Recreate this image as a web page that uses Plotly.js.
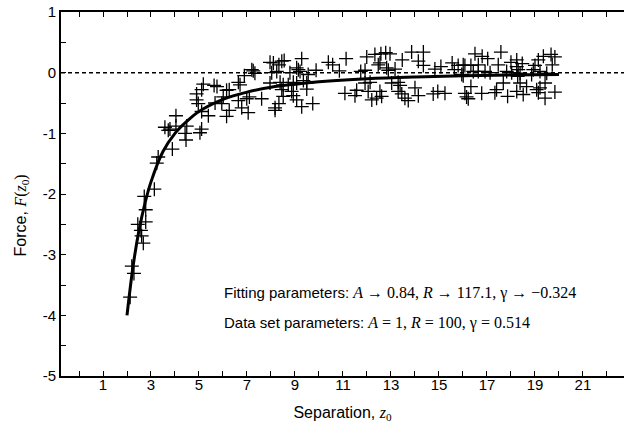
<!DOCTYPE html>
<html><head><meta charset="utf-8">
<script src="https://cdn.plot.ly/plotly-3.0.1.min.js"></script>
<style>body{margin:0;background:#fff}</style>
</head><body><div id="chart" style="width:624px;height:434px"></div>
<script>
// measured data points (separation z0, force F)
const dataZ = [
 2.13,2.29,2.20,2.68,2.61,2.58,2.78,2.45,2.78,2.72,3.14,3.24,3.30,3.89,3.72,3.58,3.79,4.04,4.04,4.49,4.42,4.46,5.04,5.11,
 4.97,4.90,4.90,5.11,5.18,5.63,5.75,5.11,5.39,5.67,5.95,6.01,6.15,6.26,6.26,6.15,6.64,6.71,6.89,7.20,7.26,7.33,6.64,6.99,7.10,6.78,7.05,7.61,8.17,
 7.96,8.10,8.45,8.55,8.33,9.28,8.03,8.24,8.79,9.07,9.14,9.21,9.55,9.88,10.39,10.57,10.85,11.13,11.74,11.92,11.99,
 7.96,8.38,8.51,8.72,8.93,9.07,9.35,9.49,9.49,8.45,8.86,8.51,8.93,9.07,8.33,9.28,9.74,8.17,11.08,11.57,11.50,11.92,
 12.33,12.58,12.78,12.96,12.54,12.47,12.82,12.89,13.17,13.47,13.86,14.35,14.14,14.35,14.83,15.08,15.55,15.80,15.64,15.95,16.01,16.08,
 12.13,12.05,12.20,12.40,12.54,12.61,13.03,13.30,13.38,13.30,13.45,13.58,13.72,14.00,14.14,14.76,14.95,15.25,16.08,16.15,16.22,16.33,16.33,16.43,
 16.50,16.80,17.03,17.58,16.64,17.47,18.00,18.24,18.47,18.24,19.00,19.14,19.35,19.67,19.83,19.72,16.64,16.92,17.13,17.82,18.03,18.30,18.38,18.28,
 18.93,19.21,19.49,18.86,17.68,18.38,18.65,18.24,19.42,19.07,19.21,19.14,19.83,16.78,17.40,17.33,17.86,18.51,19.42,16.01
];
const dataF = [
 -3.70,-3.31,-3.19,-2.81,-2.69,-2.60,-2.46,-2.50,-2.26,-2.04,-1.92,-1.49,-1.39,-1.26,-0.95,-0.90,-0.93,-0.88,-0.71,-0.88,-1.00,-1.11,-0.99,-0.93,
 -0.51,-0.45,-0.35,-0.28,-0.19,-0.21,-0.23,-0.64,-0.71,-0.50,-0.51,-0.40,-0.29,-0.28,-0.62,-0.72,-0.16,-0.20,-0.05,0.05,0.03,-0.01,-0.46,-0.43,-0.40,-0.58,-0.66,-0.43,-0.58,
 0.17,0.16,0.19,0.20,0.13,0.23,0.00,0.02,0.00,0.08,0.05,0.02,-0.03,0.04,0.17,0.13,0.03,0.23,0.02,0.04,0.26,
 -0.17,-0.16,-0.20,-0.20,-0.16,-0.17,-0.13,-0.17,-0.27,-0.28,-0.31,-0.39,-0.38,-0.45,-0.51,-0.56,-0.51,-0.62,-0.34,-0.29,-0.38,-0.17,
 0.30,0.31,0.33,0.31,0.16,0.13,0.08,0.04,0.06,0.21,0.34,0.34,0.19,0.12,0.06,0.10,0.16,0.12,0.05,-0.03,-0.05,0.12,
 -0.16,-0.31,-0.45,-0.42,-0.31,-0.39,-0.17,-0.16,-0.21,-0.31,-0.35,-0.42,-0.46,-0.25,-0.38,-0.35,-0.31,-0.34,-0.34,-0.40,-0.43,-0.23,0.12,0.02,
 0.31,0.27,0.23,0.34,0.13,0.13,0.17,0.21,0.15,0.10,0.12,0.21,0.27,0.30,0.26,0.13,0.02,0.02,0.00,0.02,0.00,0.05,-0.01,-0.06,
 0.05,0.02,-0.01,-0.03,-0.17,-0.17,-0.23,-0.31,-0.17,-0.28,-0.25,-0.33,-0.32,-0.34,-0.28,-0.33,-0.39,-0.36,-0.42,0.13
];
// fitted curve
const fitZ = [2.0,2.25,2.5,2.75,3.0,3.5,4.0,4.5,5.0,6.0,7.0,8.0,9.0,10.0,12.0,14.0,16.0,18.0,20.0];
const fitF = [-4.0,-3.2,-2.6,-2.15,-1.8,-1.3,-1.0,-0.8,-0.64,-0.44,-0.32,-0.24,-0.19,-0.15,-0.10,-0.07,-0.05,-0.04,-0.03];
const xTickVals = [1,3,5,7,9,11,13,15,17,19,21];
const xTickText = ['1','3','5','7','9','11','13','15','17','19','21'];
const yTickVals = [-5,-4,-3,-2,-1,0,1];
const yTickText = ['-5','-4','-3','-2','-1','0','1'];

const serif = "Liberation Serif";
const sans = "'Liberation Sans', Arial, sans-serif";

const traces = [
  {x: dataZ, y: dataF, type: 'scatter', mode: 'markers',
   marker: {symbol: 'cross-thin', size: 10, color: '#000', line: {color: '#000', width: 1.3}},
   hoverinfo: 'none', showlegend: false},
  {x: fitZ, y: fitF, type: 'scatter', mode: 'lines',
   line: {color: '#000', width: 3, shape: 'spline'}, hoverinfo: 'none', showlegend: false}
];

const layout = {
  width: 624, height: 434,
  margin: {l: 61, r: 0, t: 12, b: 58},
  paper_bgcolor: '#fff', plot_bgcolor: '#fff',
  font: {family: sans, size: 15, color: '#000'},
  showlegend: false,
  xaxis: {
    range: [-0.75, 22.71],
    tickmode: 'array', tickvals: xTickVals, ticktext: xTickText,
    ticks: 'inside', ticklen: 5, tickwidth: 1, tickcolor: '#000',
    minor: {tickmode: 'linear', tick0: 0, dtick: 1, ticks: 'inside', ticklen: 5, tickwidth: 1, tickcolor: '#000'},
    showline: true, linecolor: '#000', linewidth: 1.8, mirror: 'ticks',
    showgrid: false, zeroline: false,
    tickfont: {size: 15}, ticklabelstandoff: -6,
    title: {text: "Separation, <span style=\"font-family:" + serif + "\"><i>z</i><sub>0</sub></span>", font: {size: 16}, standoff: 15}
  },
  yaxis: {
    range: [-5, 1],
    tickmode: 'array', tickvals: yTickVals, ticktext: yTickText,
    ticks: 'inside', ticklen: 5, tickwidth: 1, tickcolor: '#000',
    minor: {tickmode: 'linear', tick0: 0, dtick: 0.5, ticks: 'inside', ticklen: 5, tickwidth: 1, tickcolor: '#000'},
    showline: true, linecolor: '#000', linewidth: 1.8, mirror: false,
    showgrid: false, zeroline: false,
    tickfont: {size: 15},
    title: {text: ""}
  },
  shapes: [
    {type: 'line', xref: 'paper', yref: 'y', x0: 0, x1: 1, y0: 0, y1: 0, layer: 'below',
     line: {color: '#000', width: 1.5, dash: '4px,3px'}}
  ],
  annotations: [
    {xref: 'paper', yref: 'paper', x: -0.07, y: 0.44, xanchor: 'center', yanchor: 'middle', showarrow: false,
     textangle: -90, font: {size: 16, family: sans},
     text: "Force, <span style=\"font-family:" + serif + "\"><i>F</i>(<i>z</i><sub>0</sub>)</span>"},
    {xref: 'paper', yref: 'paper', x: 0.286, y: 0.227, xanchor: 'left', yanchor: 'middle', showarrow: false,
     font: {size: 15, family: sans},
     text: "Fitting parameters: <span style=\"font-family:" + serif + ";font-size:16px\"><i>A</i> → 0.84, <i>R</i> → 117.1, γ → −0.324</span>"},
    {xref: 'paper', yref: 'paper', x: 0.286, y: 0.146, xanchor: 'left', yanchor: 'middle', showarrow: false,
     font: {size: 15, family: sans},
     text: "Data set parameters: <span style=\"font-family:" + serif + ";font-size:16px\"><i>A</i> = 1, <i>R</i> = 100, γ = 0.514</span>"}
  ]
};

Plotly.newPlot('chart', traces, layout, {staticPlot: true, displayModeBar: false});
</script>
</body></html>
